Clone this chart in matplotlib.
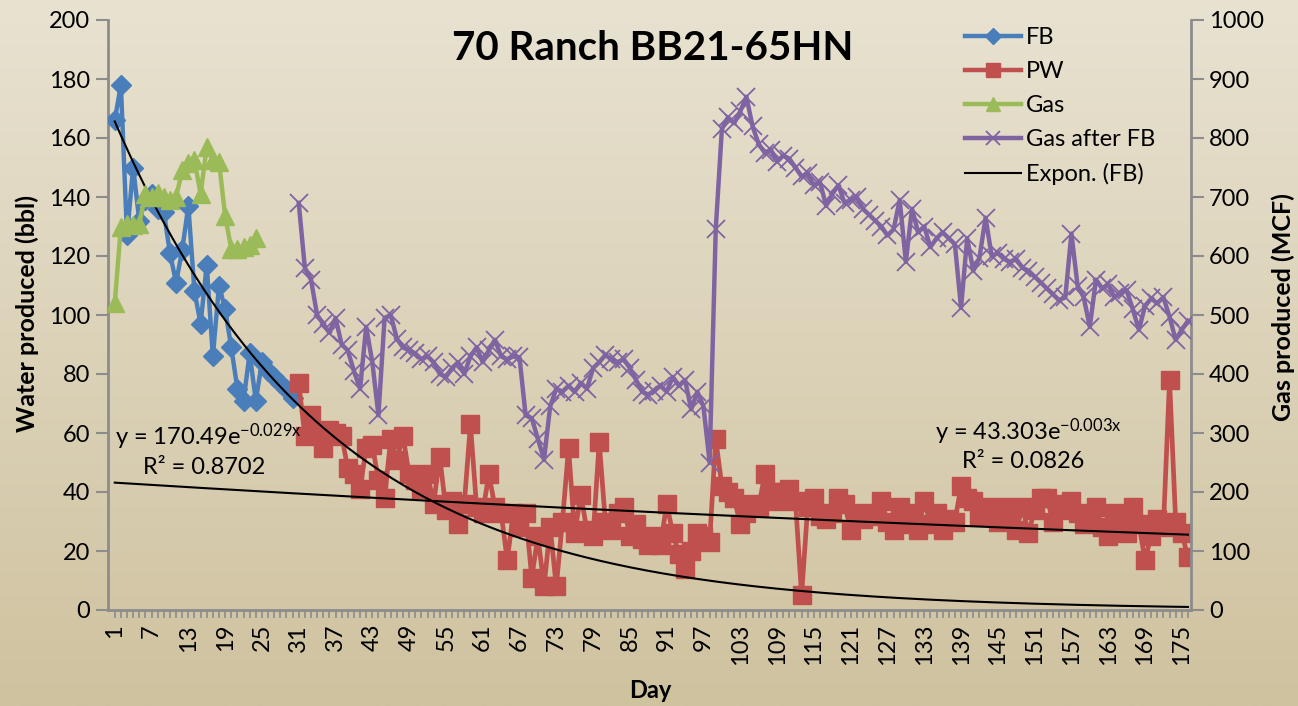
import numpy as np
import matplotlib
matplotlib.use("Agg")
import matplotlib.pyplot as plt
from matplotlib.lines import Line2D
from matplotlib.colors import LinearSegmentedColormap

plt.rcParams['font.family'] = ['Lato', 'DejaVu Sans']
plt.rcParams['mathtext.fontset'] = 'custom'
plt.rcParams['mathtext.rm'] = 'Lato'
plt.rcParams['mathtext.it'] = 'Lato:italic'
plt.rcParams['mathtext.bf'] = 'Lato:bold'

# ---------------------------------------------------------------------
# Data
# ---------------------------------------------------------------------
fb_days = np.arange(1, 31)
fb = [166, 178, 127, 150, 132, 139, 141, 136, 135, 121,
      111, 122, 137, 108, 97, 117, 86, 110, 102, 89,
      75, 71, 87, 71, 84, 81, 79, 77, 75, 72]

gas_days = np.arange(1, 25)
gas = [520, 650, 655, 652, 655, 705, 700, 706, 700, 695,
       700, 745, 757, 762, 705, 785, 762, 760, 668, 612,
       612, 615, 618, 630]

pw_days = np.arange(31, 177)
pw = [77, 59, 66, 60, 55, 61, 60, 59, 48, 46,
      41, 55, 56, 44, 38, 58, 51, 59, 46, 44,
      41, 46, 36, 52, 34, 37, 29, 36, 63, 35,
      33, 46, 35, 33, 17, 33, 28, 33, 11, 25,
      8, 28, 8, 30, 55, 26, 39, 27, 25, 57,
      30, 27, 33, 35, 25, 29, 24, 22, 25, 22,
      36, 26, 19, 14, 20, 26, 25, 23, 58, 42,
      40, 38, 29, 33, 36, 35, 46, 40, 37, 40,
      41, 37, 5, 35, 38, 32, 31, 33, 38, 36,
      27, 33, 31, 32, 33, 37, 30, 27, 35, 29,
      33, 27, 37, 29, 33, 27, 31, 30, 42, 38,
      37, 32, 35, 34, 30, 35, 33, 27, 35, 26,
      34, 38, 38, 30, 34, 36, 37, 33, 29, 30,
      35, 28, 25, 33, 31, 26, 35, 29, 17, 25,
      31, 28, 78, 30, 26, 18]

gas_after = [690, 580, 560, 500, 485, 470, 495, 450, 440, 405,
             375, 480, 420, 330, 495, 500, 460, 445, 440, 435,
             425, 430, 420, 400, 395, 410, 420, 400, 430, 445,
             420, 440, 458, 430, 425, 430, 428, 330, 325, 290,
             255, 345, 375, 370, 380, 370, 385, 375, 410, 420,
             432, 425, 420, 425, 410, 390, 370, 365, 372, 380,
             370, 395, 380, 390, 340, 370, 345, 250, 645, 815,
             835, 825, 845, 870, 820, 790, 775, 780, 760, 770,
             765, 750, 735, 740, 720, 725, 685, 705, 720, 690,
             695, 700, 680, 670, 660, 650, 635, 645, 695, 590,
             680, 640, 650, 615, 630, 640, 630, 620, 512, 630,
             575, 597, 665, 600, 605, 595, 590, 595, 580, 575,
             565, 555, 545, 535, 525, 530, 638, 550, 530, 480,
             560, 545, 552, 530, 537, 542, 510, 475, 515, 528,
             520, 530, 497, 458, 475, 490]

# exponential trendlines as printed on the chart
fb_trend = (170.49, -0.029)
pw_trend = (43.303, -0.003)
last_day = 176
tick_days = np.arange(1, 177, 6)

blue, red, green, purple = '#4A7EBB', '#C0504D', '#9BBB59', '#8064A2'
grey = '#8C8C8C'

W, H = 1298, 706
fig = plt.figure(figsize=(W / 100, H / 100), dpi=100)

# background gradient
bg = fig.add_axes([0, 0, 1, 1], zorder=-10)
cmap = LinearSegmentedColormap.from_list('bg', ['#E8E2D1', '#CFC29F'])
bg.imshow(np.linspace(0, 1, 256).reshape(-1, 1), aspect='auto', cmap=cmap,
          extent=[0, 1, 0, 1], origin='upper')
bg.axis('off')

ax = fig.add_axes([108 / W, 96 / H, (1191 - 108) / W, (610 - 20) / H])
ax.patch.set_alpha(0)
ax2 = ax.twinx()
ax2.patch.set_alpha(0)

# primary axis series
ax.plot(fb_days, fb, color=blue, lw=3.2, marker='D', ms=10, zorder=3)
ax.plot(pw_days, pw, color=red, lw=3.4, marker='s', ms=13.5, zorder=3)

xt = np.linspace(1, last_day, 400)
ax.plot(xt, fb_trend[0] * np.exp(fb_trend[1] * xt), color='black', lw=1.5, zorder=4)
ax.plot(xt, pw_trend[0] * np.exp(pw_trend[1] * xt), color='black', lw=1.5, zorder=4)

# secondary axis series
ax2.plot(gas_days, gas, color=green, lw=3.2, marker='^', ms=13, zorder=3)
ax2.plot(pw_days, gas_after, color=purple, lw=3.2, marker='x', ms=13, mew=1.3, zorder=3)

ax.set_xlim(-0.1, last_day + 0.5)
ax.set_ylim(0, 200)
ax2.set_ylim(0, 1000)
ax.set_yticks(np.arange(0, 201, 20))
ax2.set_yticks(np.arange(0, 1001, 100))
ax.set_xticks(tick_days)
ax.set_xticklabels([str(d) for d in tick_days], rotation=90)
ax.set_xticks(np.arange(1, last_day + 1), minor=True)

for a in (ax, ax2):
    a.spines['top'].set_visible(False)
    for s in a.spines.values():
        s.set_color(grey)
        s.set_linewidth(2)
ax.spines['right'].set_visible(False)
ax2.spines['left'].set_visible(False)
ax2.spines['bottom'].set_visible(False)

ax.tick_params(axis='y', labelsize=17, color=grey, length=9, width=1.5, pad=4)
ax2.tick_params(axis='y', labelsize=17, color=grey, length=9, width=1.5, pad=4)
ax.tick_params(axis='x', which='both', labelsize=17, color=grey, length=6, width=1.2, pad=4)

fig.text(653 / W, 1 - 48 / H, '70 Ranch BB21-65HN', fontsize=29, fontweight='bold',
         ha='center', va='center')
fig.text(27 / W, 1 - 314 / H, 'Water produced (bbl)', fontsize=18, fontweight='bold',
         rotation=90, ha='center', va='center')
fig.text(1283 / W, 1 - 307 / H, 'Gas produced (MCF)', fontsize=18, fontweight='bold',
         rotation=90, ha='center', va='center')
fig.text(650 / W, 1 - 690 / H, 'Day', fontsize=17, fontweight='bold',
         ha='center', va='center')

fig.text(115 / W, 1 - 437 / H, r'y = 170.49e$^{\mathrm{-0.029x}}$', fontsize=17,
         ha='left', va='center')
fig.text(143 / W, 1 - 468 / H, 'R² = 0.8702', fontsize=17, ha='left', va='center')
fig.text(935 / W, 1 - 432 / H, r'y = 43.303e$^{\mathrm{-0.003x}}$', fontsize=17,
         ha='left', va='center')
fig.text(962 / W, 1 - 462 / H, 'R² = 0.0826', fontsize=17, ha='left', va='center')

handles = [
    Line2D([], [], color=blue, lw=3.2, marker='D', ms=8),
    Line2D([], [], color=red, lw=3.2, marker='s', ms=10),
    Line2D([], [], color=green, lw=3.2, marker='^', ms=10),
    Line2D([], [], color=purple, lw=3.2, marker='x', ms=10, mew=1.3),
    Line2D([], [], color='black', lw=1.5),
]
labels = ['FB', 'PW', 'Gas', 'Gas after FB', 'Expon. (FB)']
fig.legend(handles, labels, loc='upper left', bbox_to_anchor=(953 / W, 1 - 15 / H),
           frameon=False, fontsize=17, handlelength=2.4, handletextpad=0.2,
           labelspacing=0.55, borderpad=0)

fig.savefig('out.png', dpi=100)
